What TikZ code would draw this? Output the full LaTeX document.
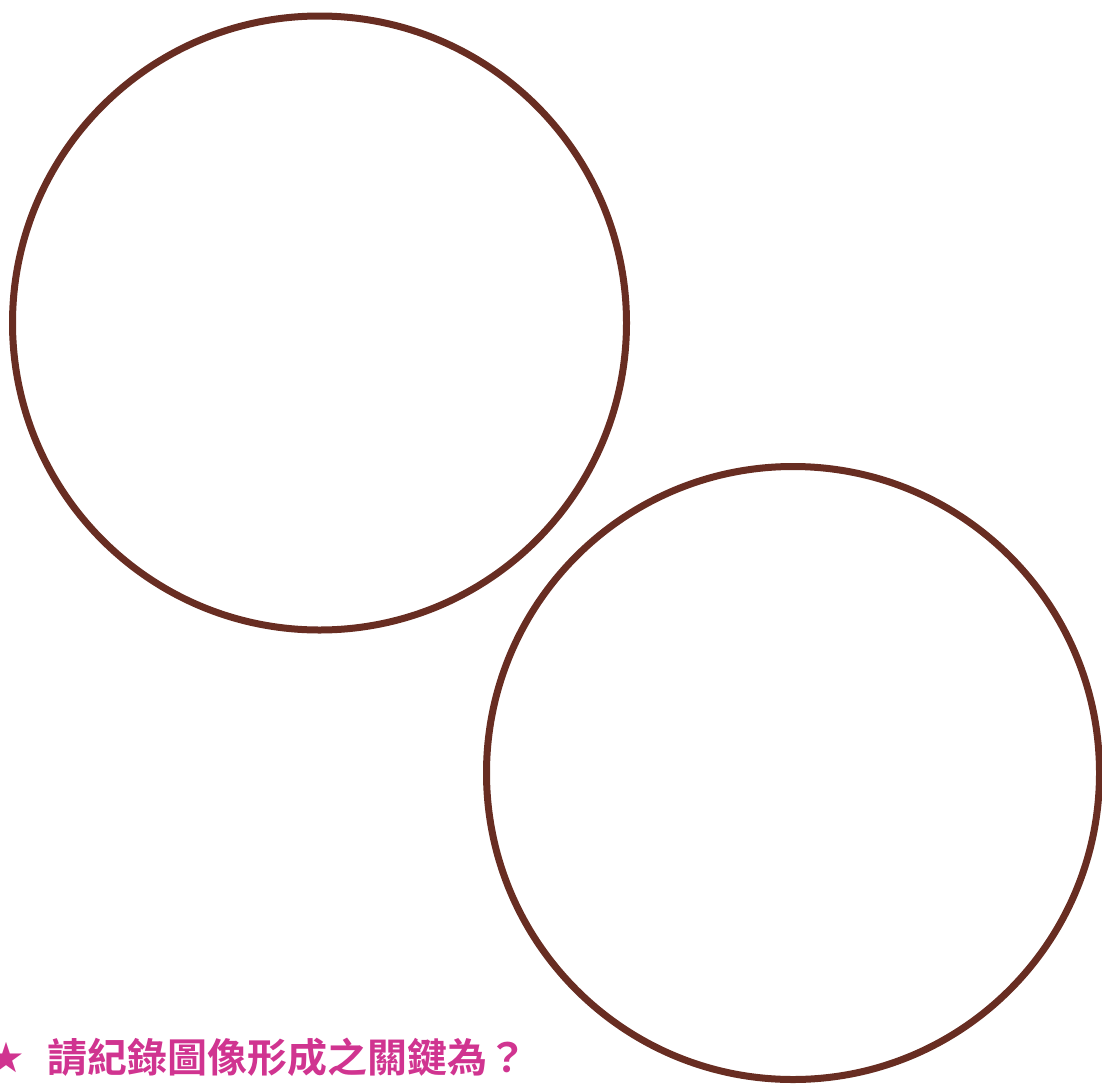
\documentclass[tikz,border=0pt]{standalone}
\usepackage{fontspec}
\newfontfamily\cjkfont{Noto Sans CJK TC}[BoldFont={Noto Sans CJK TC Bold}]
\definecolor{ringbrown}{RGB}{104,45,34}
\definecolor{notepink}{RGB}{208,52,144}
\tikzset{
  ring/.style={draw=ringbrown, line width=7pt},
  note/.style={text=notepink, font=\cjkfont\bfseries\fontsize{40pt}{44pt}\selectfont, inner sep=0pt}
}
\begin{document}
\begin{tikzpicture}[x=1pt,y=-1pt]
      \useasboundingbox (0,0) rectangle (1102,1084);
      \draw[ring] (319.5,323) circle (307pt);
      \draw[ring] (793,773) circle (306.5pt);
      \node[note, anchor=base, font=\cjkfont\bfseries\fontsize{34pt}{38pt}\selectfont] (star) at (7,1070) {★};
      \node[note, anchor=base west] (ask) at (47,1072) {請紀錄圖像形成之關鍵為？};
    \end{tikzpicture}
\end{document}
